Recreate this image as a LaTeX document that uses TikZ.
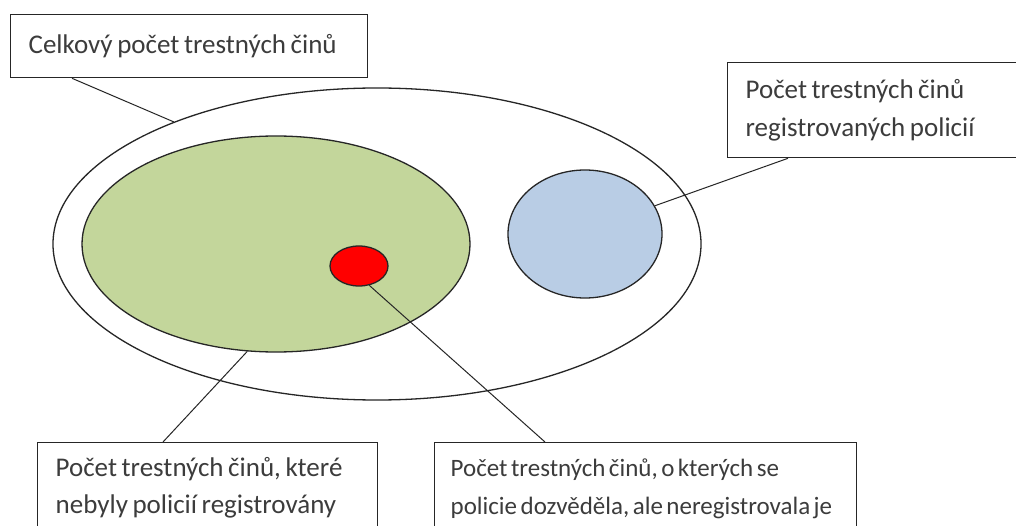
\documentclass[tikz,border=0pt]{standalone}
\usepackage{fontspec}
\setmainfont{Carlito}
\usetikzlibrary{shapes.geometric}
\definecolor{greenfill}{RGB}{195,214,155}
\definecolor{bluefill}{RGB}{185,205,229}
\definecolor{txt}{RGB}{60,60,60}
\begin{document}
\begin{tikzpicture}[x=1pt,y=1pt,
  box/.style={draw=black!85, line width=1.3pt, fill=white, anchor=north west, inner xsep=18pt, inner ysep=0pt, align=left, text=txt, font=\fontsize{27}{37.5}\selectfont, execute at begin node={\spaceskip=0.17em plus 0.05em\relax}},
  oval/.style={ellipse, draw=black!85, line width=1.3pt, inner sep=0pt},
  conn/.style={draw=black!85, line width=1pt}]
\clip (0,0) rectangle (1016,-526);
\fill[white] (0,0) rectangle (1016,-526);
\node[oval, fill=white, minimum width=648, minimum height=312] (outer) at (377,-244) {};
\node[oval, fill=greenfill, minimum width=388, minimum height=216] (green) at (276,-244) {};
\node[oval, fill=bluefill, minimum width=154, minimum height=128] (blue) at (585,-234) {};
\node[oval, fill=red, minimum width=58, minimum height=40] (red) at (359,-266) {};
\node[box, minimum width=357, minimum height=63, text width=321] (box1) at (10,-14) {Celkový počet trestných činů};
\node[box, minimum width=400, minimum height=95, text width=364] (box2) at (727,-62) {Počet trestných činů\\registrovaných policií};
\node[box, minimum width=340, minimum height=90, text width=304] (box3) at (37,-442) {Počet trestných činů, které\\nebyly policií registrovány};
\node[box, inner xsep=16pt, font=\fontsize{25}{37.5}\selectfont, execute at begin node={\spaceskip=0.14em plus 0.03em\relax}, minimum width=422, minimum height=92, text width=390] (box4) at (434,-442) {Počet trestných činů, o kterých se\\policie dozvěděla, ale neregistrovala je};
\draw[conn] ([xshift=62pt]box1.south west) -- (outer.149.9);
\draw[conn] ([xshift=61pt]box2.south west) -- (blue.22.5);
\draw[conn] ([xshift=126pt]box3.north west) -- (green.255.5);
\draw[conn] (red.-62) -- ([xshift=111pt]box4.north west);
\end{tikzpicture}
\end{document}
